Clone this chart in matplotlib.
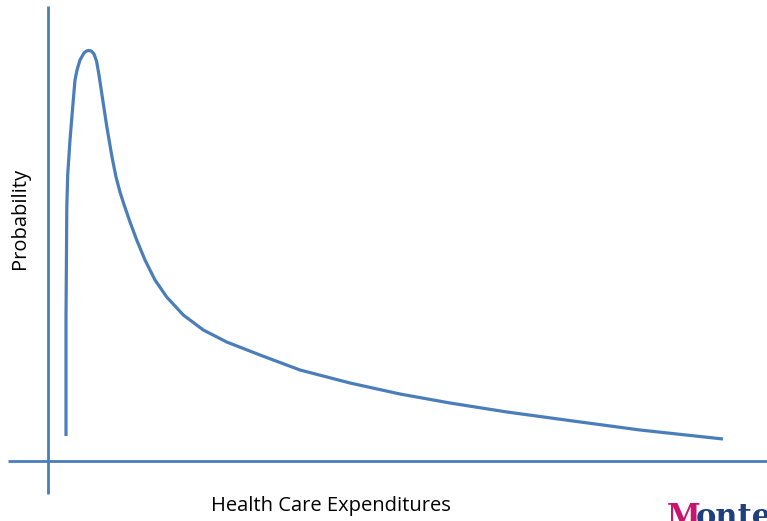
import numpy as np
import matplotlib.pyplot as plt

# Curve (x = expenditure, y = probability, arbitrary units)
expenditure = [18, 18, 18.5, 18.8, 19.7, 22, 24.7, 27, 29, 32, 36, 38.5, 41,
               43.5, 46, 48.5, 51, 54, 58.7, 64, 68, 72, 75.5, 82, 88.7, 97,
               107, 118.7, 135.3, 155.3, 178.7, 212, 252, 302, 352, 402, 459,
               525, 592, 675]
probability = [25, 144, 211, 254, 286, 321, 354, 381, 391, 401, 408, 410, 410.5,
               409.8, 407, 400, 386, 366, 335, 304, 284, 269, 258, 239, 221,
               201, 181, 164, 146, 131, 119, 106, 91, 78, 67, 58, 49, 40, 31, 22]
x_label = "Health Care Expenditures"
y_label = "Probability"

blue = "#4a7ebb"
fig = plt.figure(figsize=(7.67, 5.21), dpi=100)
ax = fig.add_axes([0, 0, 1, 1])
ax.set_xlim(-48, 719)
ax.set_ylim(-60, 461)
ax.axis("off")

# axes lines (crossing, like a drawn diagram)
ax.plot([0, 0], [-33, 455], color=blue, lw=2.0, solid_capstyle="butt")
ax.plot([-40, 719], [0, 0], color=blue, lw=2.0, solid_capstyle="butt")

ax.plot(expenditure, probability, color=blue, lw=2.3,
        solid_capstyle="butt", solid_joinstyle="round")

fig.text(331 / 767, 1 - 506 / 521, x_label, ha="center", va="center",
         fontsize=14.5, family="Open Sans")
fig.text(20 / 767, 1 - 218 / 521, y_label, ha="center", va="center",
         fontsize=14.5, family="Open Sans", rotation=90)

# cut-off logo in the corner
fig.text(667 / 767, -5 / 521, "M", ha="left", va="baseline", fontsize=22,
         fontweight="bold", family="DejaVu Serif", color="#c8146e")
fig.text(696 / 767, -5 / 521, "onte", ha="left", va="baseline", fontsize=22,
         fontweight="bold", family="DejaVu Serif", color="#1f3f7f")

plt.savefig("out.png", dpi=100)
